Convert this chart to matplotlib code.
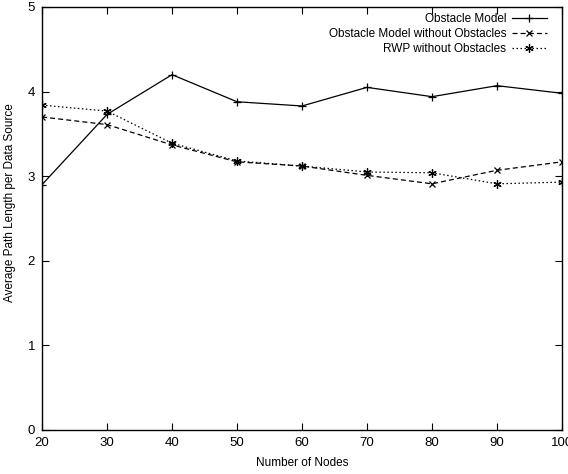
import matplotlib
matplotlib.use("Agg")
import matplotlib.pyplot as plt

nodes = [20, 30, 40, 50, 60, 70, 80, 90, 100]
obstacle_model = [2.90, 3.73, 4.20, 3.88, 3.83, 4.05, 3.94, 4.07, 3.98]
obstacle_no_obst = [3.70, 3.61, 3.37, 3.17, 3.12, 3.01, 2.91, 3.07, 3.17]
rwp_no_obst = [3.84, 3.77, 3.39, 3.18, 3.12, 3.05, 3.04, 2.91, 2.93]

plt.rcParams["font.family"] = ["Liberation Sans", "DejaVu Sans"]

fig = plt.figure(figsize=(5.68, 4.74), dpi=100)
ax = fig.add_axes([42 / 568, 44 / 474, 520 / 568, 423 / 474])

ax.plot(nodes, obstacle_model, color="black", linestyle="-", linewidth=0.9,
        marker="+", markersize=6, markeredgewidth=0.9, label="Obstacle Model")
ax.plot(nodes, obstacle_no_obst, color="black", linestyle=(0, (4, 2.5)), linewidth=0.9,
        marker="x", markersize=5, markeredgewidth=0.9,
        label="Obstacle Model without Obstacles")
ax.plot(nodes, rwp_no_obst, color="black", linestyle=(0, (1.2, 2)), linewidth=0.9,
        marker=(6, 2, 0), markersize=6, markeredgewidth=0.9,
        label="RWP without Obstacles")

ax.set_xlim(20, 100)
ax.set_ylim(0, 5)
ax.set_xticks(nodes)
ax.set_yticks([0, 1, 2, 3, 4, 5])
ax.tick_params(direction="in", top=True, right=True, length=5, width=0.8,
               labelsize=9.5, pad=5)
for s in ax.spines.values():
    s.set_linewidth(1.0)

ax.set_xlabel("Number of Nodes", fontsize=8.5, labelpad=6)
ax.set_ylabel("Average Path Length per Data Source", fontsize=8.5,
              va="center")
ax.yaxis.set_label_coords(-0.0615, 0.537)

ax.legend(loc="upper right", frameon=False, markerfirst=False, fontsize=8.5,
          handlelength=3.0, handletextpad=0.45, labelspacing=0.28,
          borderaxespad=0.0, borderpad=0.2, bbox_to_anchor=(0.976, 0.992))

fig.savefig("out.png", dpi=100)
